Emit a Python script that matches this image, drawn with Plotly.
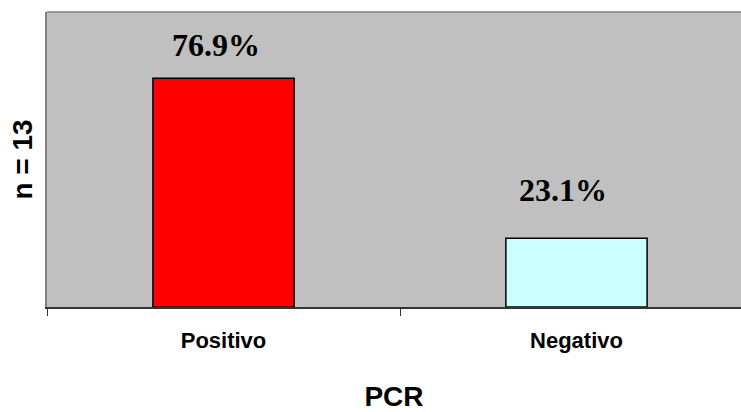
import plotly.graph_objects as go

# PCR results for the cohort (n = 13), as percentages
categories = ["Positivo", "Negativo"]
percent = [76.9, 23.1]
bar_colors = ["#FF0000", "#CCFFFF"]
label_texts = [f"{v:.1f}%" for v in percent]

# pixel offsets of the value labels from each bar top
label_dx = [-8, -14]
label_dy = [33, 48]

fig = go.Figure(
    go.Bar(
        x=categories,
        y=percent,
        width=0.4,
        marker=dict(color=bar_colors, line=dict(color="#000000", width=1.5)),
        hoverinfo="x+y",
    )
)

for cat, val, txt, dx, dy in zip(categories, percent, label_texts, label_dx, label_dy):
    fig.add_annotation(
        x=cat, y=val, text=f"<b>{txt}</b>", showarrow=False,
        xanchor="center", yanchor="middle", xshift=dx, yshift=dy,
        font=dict(family="Liberation Serif", size=32, color="#000000"),
    )

# top border of the plot area
fig.add_shape(type="line", xref="paper", yref="paper", x0=0, x1=1, y0=1, y1=1,
              line=dict(color="#808080", width=1.5))

fig.update_layout(
    width=741, height=412,
    margin=dict(l=47, r=0, t=12, b=105),
    paper_bgcolor="#FFFFFF",
    plot_bgcolor="#C0C0C0",
    showlegend=False,
    xaxis=dict(
        type="category",
        range=[-0.5, 1.466],
        showline=True, linecolor="#333333", linewidth=1.5,
        ticks="outside", tickson="boundaries", ticklen=7, tickcolor="#333333",
        tickfont=dict(family="Liberation Sans", size=22, color="#000000", weight="bold"),
        ticklabelstandoff=13,
        showgrid=False, zeroline=False,
        title=dict(text="PCR", standoff=36,
                   font=dict(family="Liberation Sans", size=28, color="#000000", weight="bold")),
    ),
    yaxis=dict(
        range=[0, 99.2],
        showline=True, linecolor="#808080", linewidth=1.5,
        showticklabels=False, ticks="", showgrid=False, zeroline=False,
        title=dict(text="n = 13", standoff=4,
                   font=dict(family="Liberation Sans", size=28, color="#000000", weight="bold")),
    ),
)

fig.write_html("out.html")
